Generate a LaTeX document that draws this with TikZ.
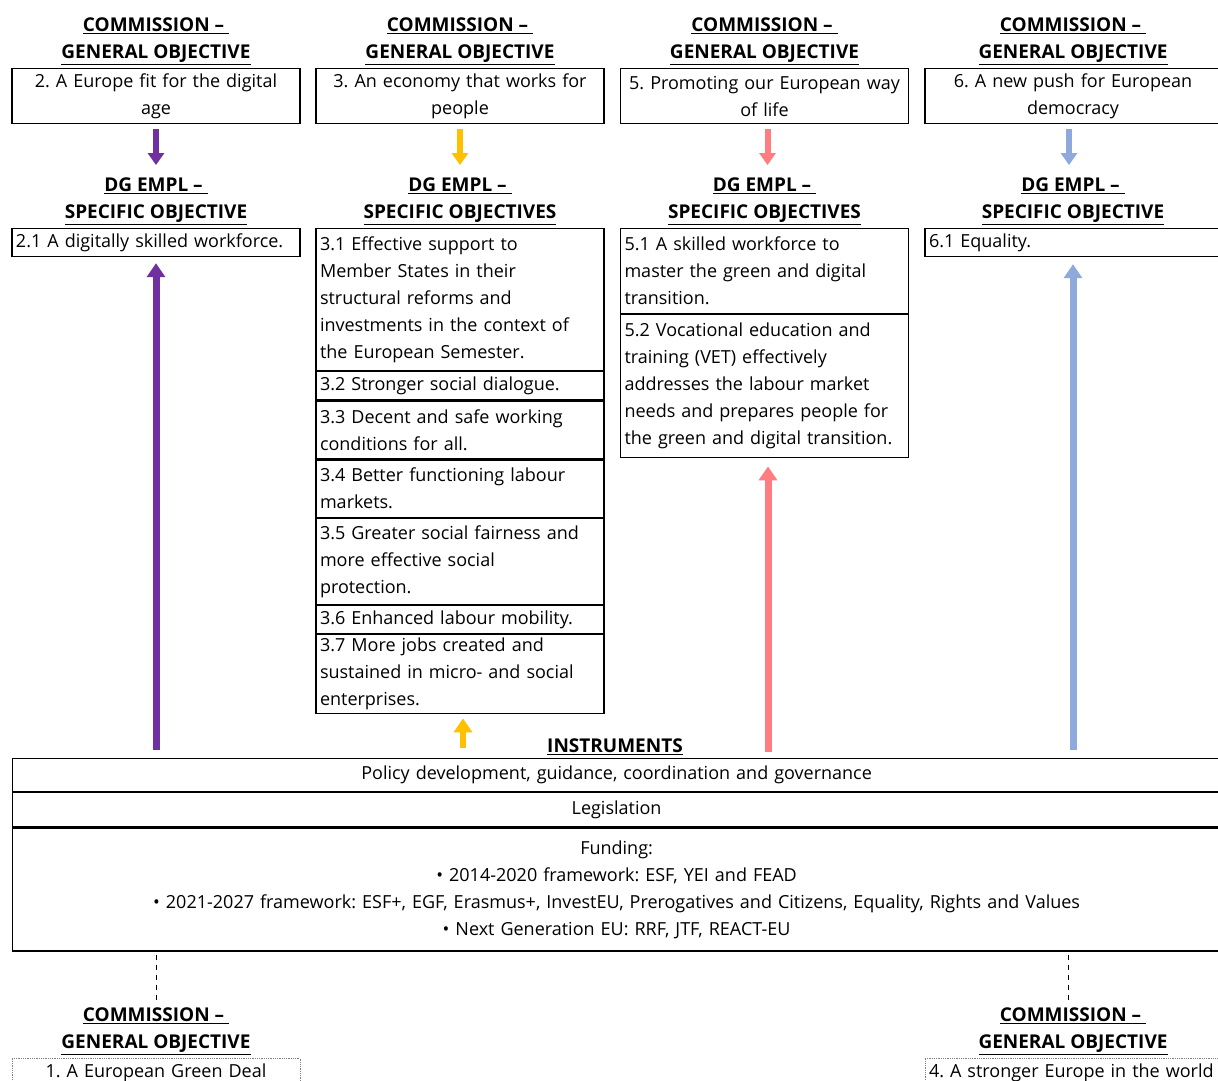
\documentclass[tikz,border=0pt]{standalone}
\usepackage{fontspec}
\setmainfont{Open Sans}
\usepackage{xcolor}
\usepackage{tikz}
\usetikzlibrary{positioning,arrows.meta,calc}

\definecolor{purpleobj}{HTML}{7030A0}
\definecolor{yellowobj}{HTML}{FFC000}
\definecolor{pinkobj}{HTML}{FF7C80}
\definecolor{blueobj}{HTML}{8EA9DB}

\newcommand{\hdrline}[1]{\underline{\textbf{#1}}}

\tikzset{
    hdr/.style={align=center, inner sep=0pt, font=\fontsize{19}{27}\selectfont},
    gobox/.style={draw, minimum width=288pt, minimum height=55pt, text width=280pt, align=center, inner xsep=4pt, inner ysep=0pt},
    sobox/.style={draw, minimum width=288pt, text width=280pt, align=left, inner xsep=4pt, inner ysep=0pt},
    instbox/.style={draw, minimum width=1208pt, text width=1200pt, align=center, inner ysep=0pt},
    downarr/.style={line width=6pt, -{Triangle[width=16pt,length=12pt]}},
    uparr/.style={line width=7pt, -{Triangle[width=18pt,length=14pt]}},
    dashline/.style={line width=1pt, dash pattern=on 5pt off 5pt},
}

\begin{document}
\frenchspacing
\begin{tikzpicture}[x=1pt, y=-1pt, line width=1.2pt, font=\fontsize{18}{27}\selectfont]

    \useasboundingbox (0,0) rectangle (1218,1081);
    \fill[white] (0,0) rectangle (1218,1081);
    \clip (0,0) rectangle (1218,1081);

    %general objectives
    \node[gobox, anchor=north] (go2) at (156,68) {2. A Europe fit for the digital\\age};
    \node[gobox, anchor=north] (go3) at (460,68) {3. An economy that works for\\people};
    \node[gobox, anchor=north] (go5) at (764.5,68) {5. Promoting our European way\\of life};
    \node[gobox, anchor=north, minimum width=296pt, text width=288pt] (go6) at (1073,68) {6. A new push for European\\democracy};

    \foreach \g in {go2,go3,go5,go6}
    \node[hdr, above=3pt of \g] (h\g) {\hdrline{COMMISSION --\ }\\\hdrline{GENERAL OBJECTIVE}};

    %specific objectives
    \node[sobox, anchor=north, minimum height=28pt] (so21) at (156,228) {2.1 A digitally skilled workforce.};

    \node[sobox, anchor=north, minimum height=142pt] (so31) at (460,228)
    {3.1 Effective support to\\Member States in their\\structural reforms and\\investments in the context of\\the European Semester.};
    \node[sobox, below=0pt of so31, minimum height=28pt] (so32) {3.2 Stronger social dialogue.};
    \node[sobox, below=0pt of so32, minimum height=58pt] (so33) {3.3 Decent and safe working\\conditions for all.};
    \node[sobox, below=0pt of so33, minimum height=57pt] (so34) {3.4 Better functioning labour\\markets.};
    \node[sobox, below=0pt of so34, minimum height=86pt] (so35) {3.5 Greater social fairness and\\more effective social\\protection.};
    \node[sobox, below=0pt of so35, minimum height=28pt] (so36) {3.6 Enhanced labour mobility.};
    \node[sobox, below=0pt of so36, minimum height=79pt] (so37) {3.7 More jobs created and\\sustained in micro- and social\\enterprises.};

    \node[sobox, anchor=north, minimum height=85pt] (so51) at (764.5,228)
    {5.1 A skilled workforce to\\master the green and digital\\transition.};
    \node[sobox, below=0pt of so51, minimum height=143pt] (so52)
    {5.2 Vocational education and\\training (VET) effectively\\addresses the labour market\\needs and prepares people for\\the green and digital transition.};

    \node[sobox, anchor=north, minimum height=28pt, minimum width=296pt, text width=288pt] (so61) at (1073,228) {6.1 Equality.};

    \node[hdr, above=3pt of so21] (hso21) {\hdrline{DG EMPL --\ }\\\hdrline{SPECIFIC OBJECTIVE}};
    \node[hdr, above=3pt of so31] (hso31) {\hdrline{DG EMPL --\ }\\\hdrline{SPECIFIC OBJECTIVES}};
    \node[hdr, above=3pt of so51] (hso51) {\hdrline{DG EMPL --\ }\\\hdrline{SPECIFIC OBJECTIVES}};
    \node[hdr, above=3pt of so61] (hso61) {\hdrline{DG EMPL --\ }\\\hdrline{SPECIFIC OBJECTIVE}};

    %instruments
    \coordinate (instc) at (615,758);
    \node[instbox, anchor=north west, minimum height=33pt] (pol) at (12,758) {Policy development, guidance, coordination and governance};
    \node[instbox, below=0pt of pol, minimum height=34pt] (leg) {Legislation};
    \node[instbox, below=0pt of leg, minimum height=123pt] (fund)
    {Funding:\\• 2014-2020 framework: ESF, YEI and FEAD\\• 2021-2027 framework: ESF+, EGF, Erasmus+, InvestEU, Prerogatives and Citizens, Equality, Rights and Values\\• Next Generation EU: RRF, JTF, REACT-EU};
    \node[hdr, above=3pt of instc] (hinst) {\hdrline{INSTRUMENTS}};

    %bottom general objectives
    \node[gobox, anchor=north, minimum height=28pt, densely dotted, gray, text=black, line width=0.8pt] (go1) at (156,1058) {1. A European Green Deal};
    \node[gobox, anchor=north, minimum height=28pt, minimum width=296pt, text width=288pt, align=left, densely dotted, gray, text=black, line width=0.8pt] (go4) at (1073,1058) {4. A stronger Europe in the world};
    \node[hdr, above=3pt of go1] (hgo1) {\hdrline{COMMISSION --\ }\\\hdrline{GENERAL OBJECTIVE}};
    \node[hdr, above=3pt of go4] (hgo4) {\hdrline{COMMISSION --\ }\\\hdrline{GENERAL OBJECTIVE}};

    %down arrows
    \draw[downarr, purpleobj, shorten <=5pt, shorten >=12pt] (go2.south) -- (hso21.north);
    \draw[downarr, yellowobj, shorten <=5pt, shorten >=12pt] (go3.south) -- (hso31.north);
    \draw[downarr, pinkobj, shorten <=5pt, shorten >=12pt] ($(go5.south)+(3,0)$) -- ($(hso51.north)+(3,0)$);
    \draw[downarr, blueobj, shorten <=5pt, shorten >=12pt] ($(go6.south)+(-4,0)$) -- ($(hso61.north)+(-4,0)$);

    %up arrows
    \draw[uparr, purpleobj, shorten <=8pt, shorten >=6pt] (so21.south |- pol.north) -- (so21.south);
    \draw[uparr, yellowobj, line width=6pt, shorten <=10pt, shorten >=4pt] ($(so37.south |- pol.north)+(3,0)$) -- ($(so37.south)+(3,0)$);
    \draw[uparr, pinkobj, shorten <=6pt, shorten >=8pt] ($(so52.south |- pol.north)+(3.5,0)$) -- ($(so52.south)+(3.5,0)$);
    \draw[uparr, blueobj, shorten <=8pt, shorten >=7pt] (so61.south |- pol.north) -- (so61.south);

    %dashed links
    \draw[dashline, shorten <=3pt, shorten >=6pt] (go1.north |- fund.south) -- (hgo1.north);
    \draw[dashline, shorten <=3pt, shorten >=6pt] ($(go4.north |- fund.south)+(-5,0)$) -- ($(hgo4.north)+(-5,0)$);

\end{tikzpicture}
\end{document}
